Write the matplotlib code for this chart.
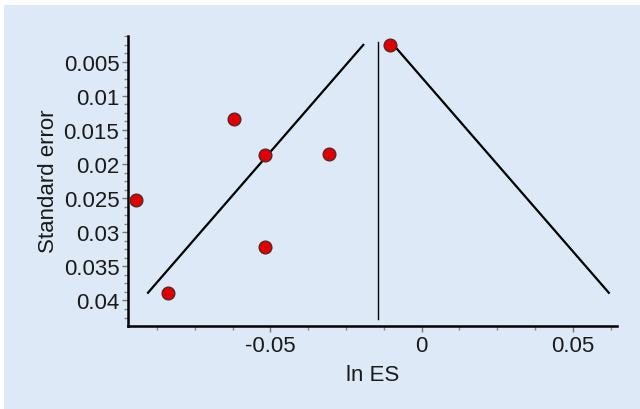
import matplotlib
matplotlib.use("Agg")
import matplotlib.pyplot as plt
import numpy as np
from matplotlib.patches import Rectangle
from matplotlib.ticker import MultipleLocator

# data
ln_es = [-0.0103, -0.0621, -0.0517, -0.0305, -0.0945, -0.0517, -0.0838]
std_err = [0.00255, 0.01339, 0.01866, 0.01851, 0.02535, 0.03217, 0.03887]
pooled = -0.0143
pooled_se_range = [0.0021, 0.0427]
x_ticks = [-0.05, 0, 0.05]
x_tick_labels = ["-0.05", "0", "0.05"]
y_ticks = [0.005, 0.01, 0.015, 0.02, 0.025, 0.03, 0.035, 0.04]
y_tick_labels = ["0.005", "0.01", "0.015", "0.02", "0.025", "0.03", "0.035", "0.04"]

plt.rcParams['font.family'] = ['Liberation Sans', 'DejaVu Sans']

fig = plt.figure(figsize=(6.4, 4.1), dpi=100)
fig.patch.set_facecolor("white")
fig.patches.append(Rectangle((4 / 640, 0), 1 - 4 / 640, 1 - 6 / 410,
                             transform=fig.transFigure, facecolor="#dde9f6",
                             edgecolor="none", zorder=-10))

ax = fig.add_axes([128.3 / 640, 1 - 326.7 / 410, (616.7 - 128.3) / 640, (326.7 - 36.7) / 410])
ax.set_facecolor("none")

# funnel lines
se_min, se_max = min(std_err), max(std_err)
ax.plot([pooled - 1.96 * se_max, pooled - 1.96 * se_min], [se_max, se_min], color="black", lw=1.6)
ax.plot([pooled + 1.96 * se_min, pooled + 1.96 * se_max], [se_min, se_max], color="black", lw=1.6)
ax.plot([pooled, pooled], pooled_se_range, color="black", lw=1.0)

ax.scatter(ln_es, std_err, s=85, facecolor="#e00000", edgecolor="#4a2a2a", linewidth=0.9, zorder=5)

ax.set_xlim(-0.0970, 0.0645)
ax.set_ylim(0.0437, 0.0012)

ax.set_xticks(x_ticks)
ax.set_xticklabels(x_tick_labels)
ax.set_yticks(y_ticks)
ax.set_yticklabels(y_tick_labels)
ax.xaxis.set_minor_locator(MultipleLocator(0.0125))
ax.yaxis.set_minor_locator(MultipleLocator(0.00125))

for s in ["top", "right"]:
    ax.spines[s].set_visible(False)
for s in ["left", "bottom"]:
    ax.spines[s].set_linewidth(1.8)
    ax.spines[s].set_color("black")

ax.tick_params(axis="both", which="major", length=4, width=1, color="#777777",
               labelsize=16, labelcolor="#1a1a1a", pad=2.5)
ax.tick_params(axis="both", which="minor", length=3, width=1, color="#888888")

ax.set_xlabel("ln ES", fontsize=16, color="#1a1a1a", labelpad=6)
ax.set_ylabel("Standard error", fontsize=16, color="#1a1a1a", labelpad=3)

fig.savefig("out.png", dpi=100)
